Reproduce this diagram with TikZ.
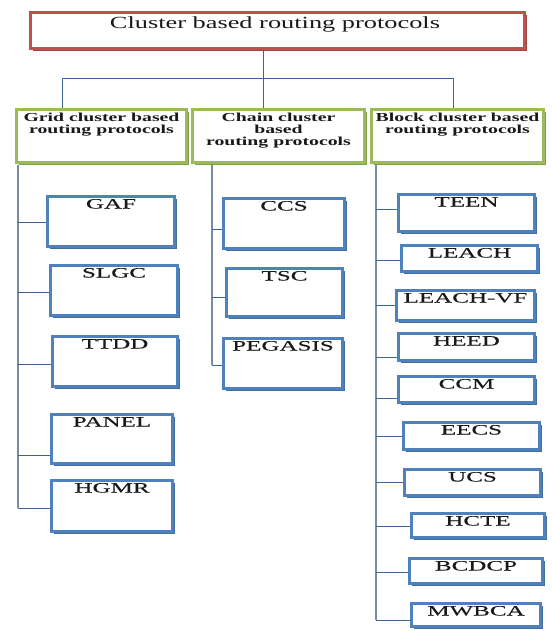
\documentclass[tikz,border=0pt]{standalone}
\usepackage{fontspec}
\usetikzlibrary{shadows}
\setmainfont{Liberation Serif}
\newfontfamily\ttlfont[FakeStretch=1.55]{Liberation Serif}
\newfontfamily\secfont[FakeStretch=1.62]{Liberation Serif}
\newfontfamily\labfont[FakeStretch=1.75,FakeBold=0.2]{Liberation Serif}
\definecolor{redc}{RGB}{192,80,77}
\definecolor{greenc}{RGB}{155,187,89}
\definecolor{bluec}{RGB}{79,129,189}
\definecolor{linec}{RGB}{60,100,150}
\definecolor{trunkc}{RGB}{120,138,168}
\definecolor{txtc}{RGB}{25,25,25}
\tikzset{
  topbox/.style={draw=redc, fill=white, line width=3pt, inner sep=0pt,
    drop shadow={shadow xshift=2.6pt, shadow yshift=-2.2pt, fill=redc!85!black, opacity=1}},
  secbox/.style={draw=greenc, fill=white, line width=3pt, inner sep=0pt,
    drop shadow={shadow xshift=2.4pt, shadow yshift=-2.2pt, fill=greenc!85!black, opacity=1}},
  probox/.style={draw=bluec, fill=white, line width=3pt, inner sep=0pt,
    drop shadow={shadow xshift=2.8pt, shadow yshift=-2.2pt, fill=bluec!85!black, opacity=1}},
  labtext/.style={inner sep=0pt, text=txtc, font=\labfont\fontsize{14.3}{16}\selectfont},
  sectext/.style={inner sep=0pt, text=txtc, align=center, font=\secfont\bfseries\fontsize{12.2}{12}\selectfont},
  ttltext/.style={inner sep=0pt, text=txtc, font=\ttlfont\fontsize{17}{20}\selectfont},
  conn/.style={draw=linec, line width=0.9pt},
  trunk/.style={draw=trunkc, line width=1.2pt},
}
\newcommand\myprobox[6]{%
  \node[probox, minimum width={(#4-#2-3)*1pt}, minimum height={(#5-#3-3)*1pt}] (#1) at ({(#2+#4)/2},{(#3+#5)/2}) {};
  \node[labtext, anchor=base] (#1t) at ([yshift=-13.5pt]#1.north) {#6};}
\newcommand\mysecbox[6]{%
  \node[secbox, minimum width={(#4-#2-3)*1pt}, minimum height={(#5-#3-3)*1pt}] (#1) at ({(#2+#4)/2},{(#3+#5)/2}) {};
  \node[sectext, anchor=north] (#1t) at ([yshift=-5pt]#1.north) {#6};}
\begin{document}
\begin{tikzpicture}[x=1pt,y=-1pt]
\useasboundingbox[fill=white] (0,0) rectangle (551,631);
% top
\node[topbox, minimum width=494pt, minimum height=36pt] (top) at (277.5,30.5) {};
\node[ttltext, anchor=base] (topt) at (275,28.5) {Cluster based routing protocols};
% sections
\mysecbox{grid}{15}{108}{188}{164}{Grid cluster based\\routing protocols}
\mysecbox{chain}{191}{108}{366}{164}{Chain cluster\\based\\routing protocols}
\mysecbox{block}{370}{108}{545}{164}{Block cluster based\\routing protocols}
% top connectors
\coordinate (hub) at (263,78);
\coordinate (hl) at (62,78);
\coordinate (hr) at (453,78);
\draw[conn] (top.south -| hub) -- (hub);
\draw[conn] (hl) -- (hr);
\draw[conn] (hl) -- (grid.north -| hl);
\draw[conn] (hub) -- (chain.north -| hub);
\draw[conn] (hr) -- (block.north -| hr);
% grid children
\myprobox{gaf}{46}{195}{176}{248}{GAF}
\myprobox{slgc}{49}{264}{179}{317}{SLGC}
\myprobox{ttdd}{51}{335}{179}{388}{TTDD}
\myprobox{panel}{50}{413}{174}{465}{PANEL}
\myprobox{hgmr}{50}{479}{174}{533}{HGMR}
\coordinate (gtop) at (18,165.5);
\coordinate (gbot) at (18,508);
\draw[trunk] (gtop) -- (gbot);
\draw[conn] (gtop |- 0,222) -- (gaf.west |- 0,222);
\draw[conn] (gtop |- 0,292) -- (slgc.west |- 0,292);
\draw[conn] (gtop |- 0,364) -- (ttdd.west |- 0,364);
\draw[conn] (gtop |- 0,455) -- (panel.west |- 0,455);
\draw[conn] (gtop |- 0,508) -- (hgmr.west |- 0,508);
% chain children
\myprobox{ccs}{222}{197}{346}{250}{CCS}
\myprobox{tsc}{225}{267}{344}{318}{TSC}
\myprobox{pegasis}{222}{337}{344}{390}{PEGASIS}
\coordinate (ctop) at (212,165.5);
\coordinate (cbot) at (212,365);
\draw[trunk] (ctop) -- (cbot);
\draw[conn] (ctop |- 0,229) -- (ccs.west |- 0,229);
\draw[conn] (ctop |- 0,297) -- (tsc.west |- 0,297);
\draw[conn] (ctop |- 0,365) -- (pegasis.west |- 0,365);
% block children
\myprobox{teen}{397}{193}{536}{233}{TEEN}
\myprobox{leach}{400}{244}{539}{273}{LEACH}
\myprobox{leachvf}{395}{289}{536}{322}{LEACH-VF}
\myprobox{heed}{397}{332}{536}{362}{HEED}
\myprobox{ccm}{397}{375}{536}{404}{CCM}
\myprobox{eecs}{402}{421}{541}{451}{EECS}
\myprobox{ucs}{403}{468}{542}{497}{UCS}
\myprobox{hcte}{410}{512}{546}{539}{HCTE}
\myprobox{bcdcp}{408}{557}{544}{585}{BCDCP}
\myprobox{mwbca}{410}{602}{542}{628}{MWBCA}
\coordinate (btop) at (376,165.5);
\coordinate (bbot) at (376,620);
\draw[trunk] (btop) -- (bbot);
\draw[conn] (btop |- 0,209) -- (teen.west |- 0,209);
\draw[conn] (btop |- 0,260) -- (leach.west |- 0,260);
\draw[conn] (btop |- 0,305) -- (leachvf.west |- 0,305);
\draw[conn] (btop |- 0,357) -- (heed.west |- 0,357);
\draw[conn] (btop |- 0,398) -- (ccm.west |- 0,398);
\draw[conn] (btop |- 0,436) -- (eecs.west |- 0,436);
\draw[conn] (btop |- 0,482) -- (ucs.west |- 0,482);
\draw[conn] (btop |- 0,526) -- (hcte.west |- 0,526);
\draw[conn] (btop |- 0,572) -- (bcdcp.west |- 0,572);
\draw[conn] (btop |- 0,620) -- (mwbca.west |- 0,620);
\end{tikzpicture}
\end{document}
